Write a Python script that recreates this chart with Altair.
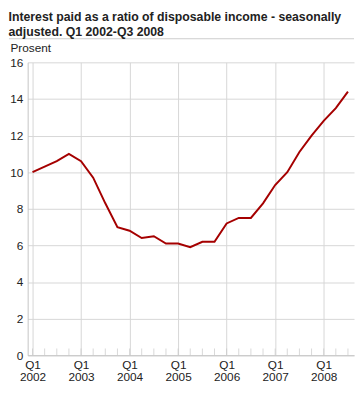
import altair as alt
import pandas as pd

quarters = ["Q1 2002", "Q2 2002", "Q3 2002", "Q4 2002",
            "Q1 2003", "Q2 2003", "Q3 2003", "Q4 2003",
            "Q1 2004", "Q2 2004", "Q3 2004", "Q4 2004",
            "Q1 2005", "Q2 2005", "Q3 2005", "Q4 2005",
            "Q1 2006", "Q2 2006", "Q3 2006", "Q4 2006",
            "Q1 2007", "Q2 2007", "Q3 2007", "Q4 2007",
            "Q1 2008", "Q2 2008", "Q3 2008"]
values = [10.0, 10.3, 10.6, 11.0, 10.6, 9.7, 8.3, 7.0, 6.8, 6.4, 6.5, 6.1, 6.1, 5.9,
          6.2, 6.2, 7.2, 7.5, 7.5, 8.3, 9.3, 10.0, 11.1, 12.0, 12.8, 13.5, 14.4]
years = ["2002", "2003", "2004", "2005", "2006", "2007", "2008"]
y_ticks = [0, 2, 4, 6, 8, 10, 12, 14, 16]

df = pd.DataFrame({"quarter": quarters, "idx": list(range(len(quarters))), "value": values})

W, H = 332, 298
FONT = "Liberation Sans"
year_arr = "[" + ",".join("'" + y + "'" for y in years) + "]"
q1_idx = [i for i, q in enumerate(quarters) if q.startswith("Q1")]

xscale = alt.Scale(domain=[-0.4, 26.5], nice=False, zero=False)
yscale = alt.Scale(domain=[0, 16], nice=False)

line = alt.Chart(df).mark_line(color="#a50000", strokeWidth=2).encode(
    x=alt.X("idx:Q", scale=xscale,
            axis=alt.Axis(values=q1_idx, grid=True, gridColor="#d6d6d6", tickSize=0,
                          labelExpr="['Q1', " + year_arr + "[floor(datum.value/4)]]",
                          labelPadding=4, labelFontSize=12, labelLineHeight=13,
                          labelColor="#222", labelFont=FONT, domainColor="#c4c4c4",
                          labelBaseline="top", title=None)),
    y=alt.Y("value:Q", scale=yscale,
            axis=alt.Axis(values=y_ticks, grid=True, gridColor="#d6d6d6", tickSize=0,
                          labelPadding=5, labelFontSize=12, labelColor="#222", labelFont=FONT,
                          domainColor="#c4c4c4", labelOverlap=False,
                          title="Prosent", titleAngle=0, titleAlign="left",
                          titleBaseline="alphabetic", titleX=-18, titleY=-11,
                          titleFontWeight="normal", titleFontSize=12, titleColor="#222",
                          titleFont=FONT)),
)

minor = alt.Chart(df).mark_tick(color="#c8c8c8", size=7, thickness=1, orient="vertical").encode(
    x=alt.X("idx:Q", scale=xscale),
    y=alt.value(H - 3.5),
)

top_rule = alt.Chart(df.head(1)).mark_rule(color="#cccccc").encode(
    x=alt.value(-19), x2=alt.value(W), y=alt.value(-24))

chart = alt.layer(line, minor, top_rule).properties(
    width=W, height=H,
    padding={"left": 0, "top": 0, "right": 0, "bottom": 0},
    title=alt.Title(["Interest paid as a ratio of disposable income - seasonally",
                     "adjusted. Q1 2002-Q3 2008"],
                    anchor="start", fontSize=12.5, fontWeight="bold", font=FONT,
                    lineHeight=15, offset=0, color="#222"),
).configure_view(stroke=None)

chart.save("out.html", embed_options={"renderer": "svg", "actions": False})
